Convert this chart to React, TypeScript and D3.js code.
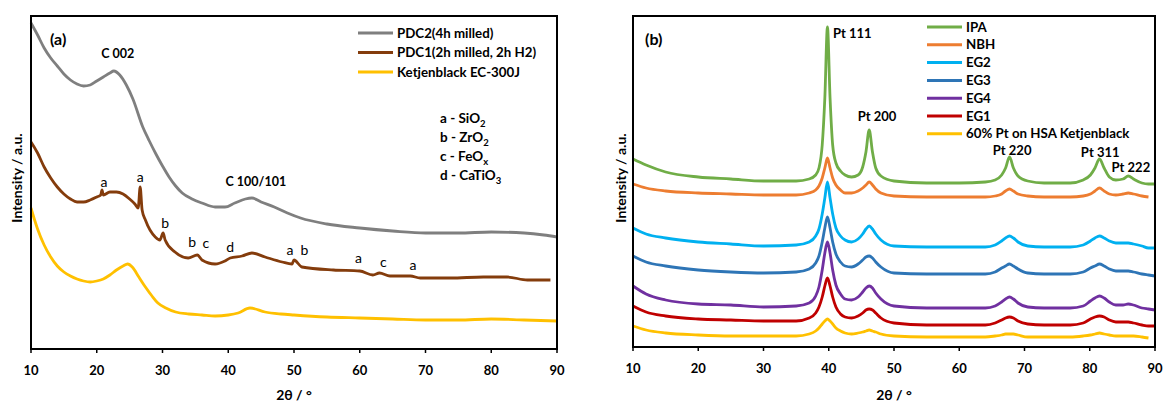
import React from "react";
import * as d3 from "d3";

// ---------- Panel (a) data ----------
const X_TICKS = [10, 20, 30, 40, 50, 60, 70, 80, 90];

const PDC2_THETA = [10, 11, 12, 13, 14, 15, 16, 17, 18, 19, 20, 21, 22, 22.6, 23.5, 24.5, 25.5, 27, 28, 29, 30, 31, 32, 33, 34.5, 36, 38, 39.5, 41, 42.6, 43.6, 45, 47, 49, 51, 55, 60, 65, 70, 75, 80, 85, 88, 90];
const PDC2_I = [326, 314, 301, 291, 283, 275, 269, 265, 263, 264, 268, 272, 276, 278, 274, 264, 250, 222, 208, 195, 183, 172, 163, 156, 150, 146, 142, 142, 146, 150, 151, 147, 142, 136, 131, 125, 121, 118, 116, 116, 117, 116, 114, 112];

const PDC1_THETA = [10, 11, 12, 13, 14, 15, 16, 17, 18, 19, 20, 20.6, 20.8, 21, 22, 23, 24, 25, 25.8, 26.3, 26.6, 26.9, 27.4, 28.9, 29.6, 30.1, 30.4, 31.9, 33.9, 35.3, 36, 38, 39.5, 40.3, 42.1, 43.6, 45.6, 48.2, 49.7, 50, 51.2, 56, 60, 62, 63, 64.6, 67.7, 69.2, 73.8, 78.8, 82.4, 85.5, 89];
const PDC1_I = [207, 196, 182, 171, 162, 155, 150, 147, 147, 149, 152, 154, 159, 154, 157, 157, 155, 150, 145, 141, 162, 139, 129, 112, 109, 116, 109, 97, 91, 94, 89, 85, 88, 91, 93, 96, 92, 87, 85, 89, 82, 79, 78, 74, 76, 73, 73, 71, 71, 72, 72, 69, 69];

const KB_THETA = [10, 10.5, 11, 12, 13, 14, 15, 16, 17, 18, 19, 20, 21, 22, 23, 24, 24.7, 25.4, 26.4, 27.4, 28.4, 29.3, 30.5, 32, 34, 36, 38, 40, 41.5, 43.3, 45.6, 48, 50, 55, 60, 65, 70, 75, 80, 85, 90];
const KB_I = [141, 130, 120, 104, 92, 83, 77, 73, 70, 68, 67, 68, 70, 74, 79, 83, 85, 82, 72, 62, 53, 46, 41, 37, 35, 34, 33, 34, 36, 41, 37, 35, 34, 32, 31, 30, 29, 29, 30, 29, 28];

const A_NAMES = ["PDC2(4h milled)", "PDC1(2h milled, 2h H2)", "Ketjenblack EC-300J"];
const A_COLORS = ["#7f7f7f", "#843c0c", "#ffc000"];

const A_PHASE_THETA = [21.1, 26.6, 30.4, 34.5, 36.6, 40.3, 49.4, 51.6, 59.8, 63.6, 68.1];
const A_PHASE_I = [167, 172, 126, 107, 106, 102, 99, 99, 91, 87, 84];
const A_PHASE_TXT = ["a", "a", "b", "b", "c", "d", "a", "b", "a", "c", "a"];

const A_KEY_LETTER = ["a", "b", "c", "d"];
const A_KEY_MAIN = ["SiO", "ZrO", "FeO", "CaTiO"];
const A_KEY_SUB = ["2", "2", "x", "3"];

// ---------- Panel (b) data ----------
const B_THETA = [10, 12, 15, 20, 25, 30, 35, 37, 38, 38.5, 39, 39.4, 39.8, 40.2, 40.6, 41.1, 41.8, 42.5, 43.5, 44.5, 45.2, 45.7, 46.2, 46.7, 47.2, 48, 50, 55, 60, 64, 65.5, 66.5, 67.1, 67.7, 68.3, 69, 70.5, 73, 77, 79, 80.1, 80.8, 81.5, 82.2, 83, 84, 85.1, 85.9, 86.7, 88, 89, 90];
const IPA = [188, 182, 175, 170, 168, 166, 166, 168, 172, 179, 202, 249, 320, 249, 202, 184, 176, 172, 170, 172, 180, 195, 217, 195, 179, 171, 166, 164, 164, 165, 167, 172, 179, 190, 179, 171, 166, 164, 164, 167, 172, 179, 188, 179, 170, 167, 168, 171, 168, 164, 163, 163];
const NBH = [163, 159, 156, 154, 153, 152, 152, 154, 157, 161, 169, 179, 189, 179, 169, 162, 157, 154, 154, 156, 159, 162, 165, 162, 158, 154, 151, 150, 150, 150, 151, 153, 156, 158, 156, 153, 151, 150, 150, 151, 153, 156, 159, 156, 153, 152, 153, 154, 153, 151, 150, null];
const EG2 = [119, 113, 109, 105, 103, 101, 102, 105, 111, 118, 133, 149, 165, 149, 133, 119, 111, 107, 105, 108, 113, 118, 121, 118, 113, 107, 101, 100, 100, 100, 102, 106, 109, 111, 109, 105, 101, 100, 100, 102, 106, 109, 111, 109, 106, 104, 104, 104, 103, 101, 99, 99];
const EG3 = [91, 85, 81, 77, 75, 74, 75, 78, 84, 91, 105, 119, 130, 119, 105, 93, 85, 81, 80, 83, 87, 90, 91, 89, 85, 80, 74, 73, 73, 73, 75, 79, 81, 83, 81, 78, 74, 73, 73, 75, 79, 81, 83, 81, 78, 76, 76, 76, 75, 73, 72, 71];
const EG4 = [61, 53, 47, 43, 42, 40, 41, 44, 51, 60, 77, 94, 105, 94, 77, 62, 53, 48, 47, 50, 55, 59, 61, 59, 54, 48, 41, 39, 39, 39, 41, 45, 48, 50, 48, 44, 40, 39, 39, 41, 46, 49, 51, 49, 45, 42, 42, 43, 42, 39, 38, 37];
const EG1 = [41, 35, 31, 28, 27, 26, 26, 29, 34, 40, 50, 61, 69, 61, 50, 40, 33, 30, 29, 31, 34, 37, 38, 37, 34, 29, 24, 22, 22, 22, 24, 27, 29, 30, 29, 26, 23, 22, 22, 24, 28, 30, 31, 30, 27, 25, 25, 25, 24, 22, 21, 21];
const HSA = [21, 17, 14, 12, 11, 11, 11, 13, 16, 19, 23, 26, 28, 26, 23, 19, 16, 14, 13, 14, 15, 16, 17, 16, 15, 13, 11, 10, 10, 10, 11, 12, 13, 13, 13, 12, 10, 10, 10, 11, 12, 13, 14, 13, 12, 11, 11, 11, 11, 10, 9, null];

const B_NAMES = ["IPA", "NBH", "EG2", "EG3", "EG4", "EG1", "60% Pt on HSA Ketjenblack"];
const B_COLORS = ["#70ad47", "#ed7d31", "#00b0f0", "#2e75b6", "#7030a0", "#c00000", "#ffc000"];
const B_SERIES = [IPA, NBH, EG2, EG3, EG4, EG1, HSA];

const PT_LABELS = ["Pt 111", "Pt 200", "Pt 220", "Pt 311", "Pt 222"];
const PT_THETA = [40.65, 47.4, 68.1, 81.6, 86.3];
const PT_I = [309, 226, 192, 190, 175];
const PT_ANCHOR = ["start", "middle", "middle", "middle", "middle"];

const FONT = "Lato, 'Liberation Sans', sans-serif";

type Pt = [number, number | null];

function zip(xs: number[], ys: (number | null)[]): Pt[] {
  return xs.map((x, i) => [x, ys[i]] as Pt);
}

function Frame({ x0, x1, y0, y1, xs }: any) {
  return (
    <g>
      <rect x={x0} y={y0} width={x1 - x0} height={y1 - y0} fill="none" stroke="#000" strokeWidth={2} />
      {X_TICKS.map((t) => (
        <g key={t}>
          <line x1={xs(t)} x2={xs(t)} y1={y1} y2={y1 + 4} stroke="#000" strokeWidth={1.5} />
          <text x={xs(t)} y={y1 + 26} textAnchor="middle" fontFamily={FONT} fontWeight="bold" fontSize={13} fill="#000">
            {t}
          </text>
        </g>
      ))}
      <text x={(x0 + x1) / 2} y={400} textAnchor="middle" fontFamily={FONT} fontWeight="bold" fontSize={14} fill="#000">
        2θ / °
      </text>
    </g>
  );
}

export default function App() {
  const xa = d3.scaleLinear().domain([10, 90]).range([31, 557]);
  const ya = d3.scaleLinear().domain([0, 333]).range([349, 16]);
  const xb = d3.scaleLinear().domain([10, 90]).range([633, 1155]);
  const yb = d3.scaleLinear().domain([0, 331]).range([347, 16]);

  const lineA = d3
    .line<Pt>()
    .defined((d) => d[1] != null)
    .x((d) => xa(d[0]))
    .y((d) => ya(d[1] as number))
    .curve(d3.curveMonotoneX);
  const lineB = d3
    .line<Pt>()
    .defined((d) => d[1] != null)
    .x((d) => xb(d[0]))
    .y((d) => yb(d[1] as number))
    .curve(d3.curveMonotoneX);

  const aSeries = [zip(PDC2_THETA, PDC2_I), zip(PDC1_THETA, PDC1_I), zip(KB_THETA, KB_I)];

  return (
    <svg width={1164} height={403} style={{ position: "absolute", left: 0, top: 0, background: "#fff" }}>
      <rect x={0} y={0} width={1164} height={403} fill="#fff" />
      {/* Panel (a) */}
      <g>
        {aSeries.map((s, i) => (
          <path key={i} d={lineA(s) || ""} fill="none" stroke={A_COLORS[i]} strokeWidth={2.8} strokeLinejoin="round" />
        ))}
        <Frame x0={31} x1={557} y0={16} y1={349} xs={xa} />
        <text transform="translate(22,178) rotate(-90)" textAnchor="middle" fontFamily={FONT} fontWeight="bold" fontSize={14} fill="#000">
          Intensity / a.u.
        </text>
        <text x={50} y={45} fontFamily={FONT} fontWeight="bold" fontSize={16} fill="#000">(a)</text>
        <text x={xa(23.2)} y={ya(291)} textAnchor="middle" fontFamily={FONT} fontWeight="bold" fontSize={12.5} fill="#000">C 002</text>
        <text x={xa(44.2)} y={ya(163)} textAnchor="middle" fontFamily={FONT} fontWeight="bold" fontSize={12.5} fill="#000">C 100/101</text>
        {A_PHASE_TXT.map((t, i) => (
          <text key={i} x={xa(A_PHASE_THETA[i])} y={ya(A_PHASE_I[i]) + 5} textAnchor="middle" fontFamily={FONT} fontSize={14} fill="#000">
            {t}
          </text>
        ))}
        {A_NAMES.map((n, i) => (
          <g key={n}>
            <line x1={358} x2={393} y1={33 + i * 19.5} y2={33 + i * 19.5} stroke={A_COLORS[i]} strokeWidth={3} />
            <text x={397} y={33 + i * 19.5 + 4.5} fontFamily={FONT} fontWeight="bold" fontSize={13.3} fill="#000">{n}</text>
          </g>
        ))}
        {A_KEY_LETTER.map((l, i) => (
          <text key={l} x={440} y={123 + i * 19} fontFamily={FONT} fontWeight="bold" fontSize={13.5} fill="#000">
            {`${l} - ${A_KEY_MAIN[i]}`}
            <tspan fontSize={9.5} dy={4}>{A_KEY_SUB[i]}</tspan>
          </text>
        ))}
      </g>

      {/* Panel (b) */}
      <g>
        {B_SERIES.map((s, i) => (
          <path key={i} d={lineB(zip(B_THETA, s)) || ""} fill="none" stroke={B_COLORS[i]} strokeWidth={2.8} strokeLinejoin="round" />
        ))}
        <Frame x0={633} x1={1155} y0={16} y1={347} xs={xb} />
        <text transform="translate(626,178) rotate(-90)" textAnchor="middle" fontFamily={FONT} fontWeight="bold" fontSize={14} fill="#000">
          Intensity / a.u.
        </text>
        <text x={645} y={45} fontFamily={FONT} fontWeight="bold" fontSize={16} fill="#000">(b)</text>
        {PT_LABELS.map((t, i) => (
          <text key={t} x={xb(PT_THETA[i])} y={yb(PT_I[i])} textAnchor={PT_ANCHOR[i] as any} fontFamily={FONT} fontWeight="bold" fontSize={13} fill="#000">
            {t}
          </text>
        ))}
        {B_NAMES.map((n, i) => (
          <g key={n}>
            <line x1={927} x2={962} y1={27 + i * 17.8} y2={27 + i * 17.8} stroke={B_COLORS[i]} strokeWidth={3} />
            <text x={966} y={27 + i * 17.8 + 4.5} fontFamily={FONT} fontWeight="bold" fontSize={13.3} fill="#000">{n}</text>
          </g>
        ))}
      </g>
    </svg>
  );
}
